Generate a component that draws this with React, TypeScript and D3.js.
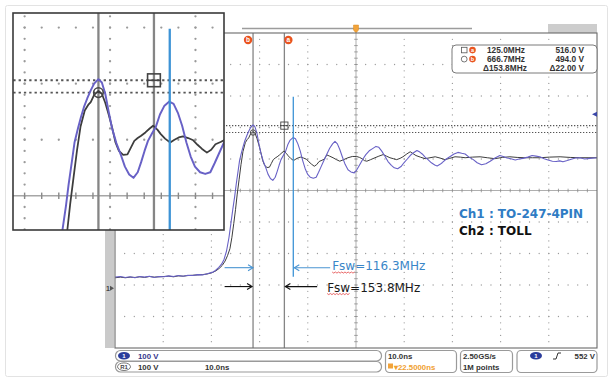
import React from 'react';
import * as d3 from 'd3';

// ---------------- data ----------------
const timeDomain: [number, number] = [-27.14, 72.86]; // ns, 10 ns/div
const voltDomain: [number, number] = [-190, 810]; // V, 100 V/div

// Ch1 : TO-247-4PIN  (t ns, V)
const ch1Points: [number, number][] = [
  [-27.1, 35], [-26.0, 37], [-25.0, 34], [-24.0, 36], [-23.0, 33], [-22.0, 37], [-21.0, 35], [-20.0, 38],
  [-19.0, 34], [-18.0, 37], [-17.0, 36], [-16.0, 39], [-15.0, 37], [-14.0, 40], [-13.0, 38], [-12.0, 41],
  [-11.0, 40], [-10.0, 43], [-9.0, 42], [-8.0, 46], [-7.0, 50], [-6.3, 56], [-5.6, 66], [-5.0, 77],
  [-4.5, 92], [-4.0, 118], [-3.5, 160], [-3.1, 205], [-2.7, 250], [-2.3, 292], [-2.0, 329], [-1.6, 372],
  [-1.3, 405], [-0.9, 430], [-0.55, 450], [-0.2, 468], [0.2, 484], [0.6, 498], [1.0, 510], [1.5, 518],
  [1.9, 512], [2.3, 492], [2.7, 460], [3.1, 430], [3.6, 404], [4.1, 384], [4.6, 362], [5.1, 348],
  [5.6, 342], [6.1, 352], [6.5, 370], [6.9, 390], [7.3, 408], [7.8, 422], [8.2, 432], [8.7, 455],
  [9.2, 470], [9.8, 478], [10.3, 474], [10.8, 458], [11.3, 435], [11.8, 405], [12.3, 380], [12.8, 362],
  [13.4, 352], [14.0, 349], [14.6, 352], [15.1, 368], [15.6, 385], [16.2, 405], [16.8, 425], [17.4, 444],
  [18.0, 458], [18.5, 466], [19.0, 458], [19.5, 440], [20.0, 418], [20.6, 393], [21.2, 376], [21.8, 369],
  [22.5, 366], [23.0, 375], [23.6, 391], [24.3, 410], [24.9, 424], [25.6, 436], [26.3, 443], [27.0, 450],
  [27.6, 447], [28.2, 435], [28.9, 418], [29.5, 402], [30.2, 390], [30.8, 382], [31.5, 379], [32.2, 386],
  [32.8, 398], [33.5, 410], [34.1, 421], [34.8, 430], [35.5, 437], [36.1, 432], [36.6, 426], [37.2, 416],
  [37.8, 408], [38.5, 398], [39.2, 391], [39.7, 388], [40.3, 393], [40.8, 399], [41.6, 410], [42.4, 418],
  [43.2, 426], [44.0, 431], [44.8, 428], [45.5, 426], [46.3, 416], [47.2, 408], [48.0, 398], [48.9, 392],
  [49.8, 395], [50.7, 403], [51.7, 413], [52.7, 421], [53.4, 418], [54.2, 413], [55.0, 411], [55.9, 407],
  [56.7, 410], [57.5, 412], [58.5, 416], [59.4, 421], [60.2, 419], [61.0, 417], [61.9, 411], [62.7, 407],
  [63.6, 403], [64.4, 402], [65.1, 404], [65.8, 401], [66.7, 405], [67.5, 409], [68.4, 413], [69.3, 414],
  [70.3, 410], [71.4, 412], [72.86, 414],
];

// Ch2 : TOLL  (t ns, V)
const ch2Points: [number, number][] = [
  [-27.1, 33], [-26.0, 35], [-25.0, 33], [-24.0, 35], [-23.0, 34], [-22.0, 36], [-21.0, 34], [-20.0, 37],
  [-19.0, 35], [-18.0, 36], [-17.0, 37], [-16.0, 38], [-15.0, 36], [-14.0, 39], [-13.0, 38], [-12.0, 40],
  [-11.0, 41], [-10.0, 42], [-9.0, 43], [-8.0, 45], [-7.0, 49], [-6.2, 55], [-5.5, 63], [-4.9, 72],
  [-4.3, 86], [-3.8, 103], [-3.3, 125], [-2.9, 160], [-2.5, 205], [-2.14, 249], [-1.8, 296], [-1.4, 344],
  [-1.0, 392], [-0.6, 433], [-0.1, 462], [0.3, 472], [0.6, 477], [1.0, 490], [1.5, 497], [1.9, 492],
  [2.3, 476], [2.7, 455], [3.1, 432], [3.5, 405], [3.9, 390], [4.4, 383], [4.9, 384], [5.3, 396],
  [5.7, 408], [6.1, 413], [6.5, 417], [7.0, 423], [7.5, 430], [7.9, 435], [8.4, 428], [8.8, 420],
  [9.3, 412], [9.9, 405], [10.4, 410], [10.9, 414], [11.4, 416], [12.0, 413], [12.6, 409], [13.1, 401],
  [13.6, 394], [14.2, 387], [14.7, 392], [15.2, 402], [15.8, 406], [16.3, 410], [16.8, 423], [17.4, 419],
  [18.1, 414], [18.8, 408], [19.5, 403], [20.3, 408], [21.2, 414], [22.1, 418], [23.0, 418], [23.6, 415],
  [24.1, 411], [24.6, 405], [25.1, 403], [25.9, 408], [26.8, 414], [27.6, 419], [28.5, 424], [29.2, 419],
  [29.9, 414], [30.6, 411], [31.3, 408], [32.0, 412], [32.6, 417], [33.4, 426], [34.1, 433], [34.7, 427],
  [35.3, 421], [36.2, 416], [37.2, 411], [38.2, 414], [39.3, 417], [40.3, 413], [41.3, 408], [42.3, 412],
  [43.4, 417], [44.5, 416], [45.5, 414], [47.0, 416], [48.6, 417], [50.1, 414], [51.7, 411], [53.2, 415],
  [54.8, 417], [56.3, 415], [57.9, 414], [59.5, 414], [61.0, 414], [63.0, 416], [65.2, 417], [67.3, 415],
  [69.3, 414], [71.0, 414], [72.86, 414],
];

// cursors
const cursorTimes = { a: 8.0, b: 1.5 }; // ns
const cursorVolts = { a: 516.0, b: 494.0 }; // V
const ch1SecondPeakT = 9.85; // ns (blue marker)
const ch1MarkerVolts: [number, number] = [36, 608];
const triggerLevel = 552; // V
const arrowVolts = { ch1: 65, ch2: 5 };
const arrowStartT = -4.4;
const ch1LabelT = 17.5;
const ch2LabelT = 14.8;

const readoutRows = [
  { icon: 'square', id: 'a', freq: '125.0MHz', volt: '516.0 V' },
  { icon: 'circle', id: 'b', freq: '666.7MHz', volt: '494.0 V' },
  { icon: '', id: '', freq: 'Δ153.8MHz', volt: 'Δ22.00 V' },
];
const fswLabels = { ch1: 'Fsw=116.3MHz', ch2: 'Fsw=153.8MHz' };
const channelLabels = ['Ch1 : TO-247-4PIN', 'Ch2 : TOLL'];

// zoom window of the inset (t ns, V)
const insetT: [number, number] = [-8.5, 16.2];
const insetV: [number, number] = [249, 636];

// ---------------- layout ----------------
const W = 614, H = 382;
const PL = 115, PR = 597, PT = 33, PB = 348;
const INSET = { x0: 13, y0: 13, x1: 224, y1: 230 };

const C1 = '#6861c6';
const C2 = '#3d3d3d';
const BLUE = '#3d93d6';
const ORANGE = '#e9541f';

type Sc = d3.ScaleLinear<number, number>;

function Scene({ x, y }: { x: Sc; y: Sc }) {
  const majorT = d3.range(11).map((i) => timeDomain[0] + i * 10);
  const majorV = d3.range(11).map((j) => voltDomain[0] + j * 100);
  const minorT = d3.range(1, 50).map((i) => timeDomain[0] + i * 2);
  const minorV = d3.range(1, 50).map((j) => voltDomain[0] + j * 20);
  const dots: JSX.Element[] = [];
  majorV.forEach((v, j) => {
    if (j === 0 || j === 10 || j === 5) return;
    minorT.forEach((t, i) => dots.push(<circle key={`r${j}-${i}`} cx={x(t)} cy={y(v)} r={0.65} fill="#9a9a9a" />));
  });
  majorT.forEach((t, i) => {
    if (i === 0 || i === 10 || i === 5) return;
    minorV.forEach((v, j) => dots.push(<circle key={`c${i}-${j}`} cx={x(t)} cy={y(v)} r={0.65} fill="#9a9a9a" />));
  });
  const cT = majorT[5];
  const cV = majorV[5];
  const line = d3.line<[number, number]>().x((d) => x(d[0])).y((d) => y(d[1]));
  const sq = 3.6;
  return (
    <g>
      {dots}
      {/* center cross with ticks */}
      <line x1={PL} x2={PR} y1={y(cV)} y2={y(cV)} stroke="#a6a6a6" strokeWidth={0.9} />
      <line x1={x(cT)} x2={x(cT)} y1={PT} y2={PB} stroke="#a6a6a6" strokeWidth={0.9} />
      {minorT.map((t, i) => (
        <line key={`th${i}`} x1={x(t)} x2={x(t)} y1={y(cV) - 1.8} y2={y(cV) + 1.8} stroke="#8a8a8a" strokeWidth={0.8} />
      ))}
      {minorV.map((v, i) => (
        <line key={`tv${i}`} x1={x(cT) - 1.8} x2={x(cT) + 1.8} y1={y(v)} y2={y(v)} stroke="#8a8a8a" strokeWidth={0.8} />
      ))}
      {/* cursor lines */}
      {[cursorTimes.a, cursorTimes.b].map((t, i) => (
        <line key={`cv${i}`} x1={x(t)} x2={x(t)} y1={PT} y2={PB} stroke="#858585" strokeWidth={1.3} />
      ))}
      {[cursorVolts.a, cursorVolts.b].map((v, i) => (
        <line key={`ch${i}`} x1={PL} x2={PR} y1={y(v)} y2={y(v)} stroke="#555" strokeWidth={1.1} strokeDasharray="1.3 1.7" />
      ))}
      {/* waveforms */}
      <path d={line(ch2Points) || ''} fill="none" stroke={C2} strokeWidth={1} strokeLinejoin="round" />
      <path d={line(ch1Points) || ''} fill="none" stroke={C1} strokeWidth={1.1} strokeLinejoin="round" />
      {/* blue marker line */}
      <line x1={x(ch1SecondPeakT)} x2={x(ch1SecondPeakT)} y1={y(ch1MarkerVolts[1])} y2={y(ch1MarkerVolts[0])} stroke={BLUE} strokeWidth={1.3} />
      {/* cursor point markers */}
      <g stroke="#444" strokeWidth={0.9} fill="none">
        <rect x={x(cursorTimes.a) - sq} y={y(cursorVolts.a) - sq} width={sq * 2} height={sq * 2} />
        <line x1={x(cursorTimes.a) - sq} x2={x(cursorTimes.a) + sq} y1={y(cursorVolts.a)} y2={y(cursorVolts.a)} />
        <circle cx={x(cursorTimes.b)} cy={y(cursorVolts.b)} r={2.7} />
      </g>
    </g>
  );
}

function Arrow({ x1, x2, y, color }: { x1: number; x2: number; y: number; color: string }) {
  const dir = x2 > x1 ? 1 : -1;
  return (
    <g stroke={color} strokeWidth={1.1} fill="none">
      <line x1={x1} x2={x2} y1={y} y2={y} />
      <path d={`M${x2 - dir * 5},${y - 3} L${x2},${y} L${x2 - dir * 5},${y + 3}`} />
    </g>
  );
}

function Squiggle({ x0, y0, w }: { x0: number; y0: number; w: number }) {
  const pts: string[] = [];
  for (let i = 0; i <= Math.round(w / 1.6); i++) pts.push(`${x0 + i * 1.6},${y0 + (i % 2 ? 1.1 : 0)}`);
  return <polyline points={pts.join(' ')} fill="none" stroke="#e02a2a" strokeWidth={0.7} />;
}

export default function App() {
  const x = d3.scaleLinear().domain(timeDomain).range([PL, PR]);
  const y = d3.scaleLinear().domain(voltDomain).range([PB, PT]);

  // inset transform from zoom window
  const mx0 = x(insetT[0]), mx1 = x(insetT[1]);
  const my0 = y(insetV[1]), my1 = y(insetV[0]);
  const kx = (INSET.x1 - INSET.x0) / (mx1 - mx0);
  const ky = (INSET.y1 - INSET.y0) / (my1 - my0);
  const tx = INSET.x0 - kx * mx0;
  const ty = INSET.y0 - ky * my0;

  const xA = x(cursorTimes.a), xB = x(cursorTimes.b);
  const yTrig = y(triggerLevel);
  const yArrow1 = y(arrowVolts.ch1), yArrow2 = y(arrowVolts.ch2);
  const xc = (PL + PR) / 2;
  const font = 'Liberation Sans, Arial, sans-serif';
  const dv = 'DejaVu Sans, Verdana, sans-serif';

  return (
    <svg width={W} height={H} style={{ position: 'absolute', left: 0, top: 0 }} fontFamily={font}>
      <defs>
        <clipPath id="screenClip"><rect x={PL} y={PT} width={PR - PL} height={PB - PT} /></clipPath>
        <clipPath id="insetClip"><rect x={INSET.x0} y={INSET.y0} width={INSET.x1 - INSET.x0} height={INSET.y1 - INSET.y0} /></clipPath>
      </defs>
      <rect width={W} height={H} fill="#fff" />
      <rect x={5.5} y={5.5} width={602} height={371} rx={2} fill="none" stroke="#e3e3e3" />

      {/* top record bar */}
      <line x1={242} x2={472} y1={28.5} y2={28.5} stroke="#9c9c9c" strokeWidth={1.5} />
      <rect x={548} y={24} width={49} height={9} fill="#cdcdcd" />
      <path d={`M${xc - 2.5},${25} h5 v5 l-2.5,3 l-2.5,-3 Z`} fill="#f2a33a" stroke="#d98a20" strokeWidth={0.5} />

      {/* left gray bar */}
      <rect x={105} y={PT} width={9} height={PB - PT} fill="#cacaca" />
      <text x={106} y={y(0) + 3} fontSize={7} fontWeight="bold" fill="#444">1</text>
      <path d={`M110,${y(0) - 2.5} L114,${y(0)} L110,${y(0) + 2.5} Z`} fill="#555" />

      {/* screen */}
      <g clipPath="url(#screenClip)">
        <Scene x={x} y={y} />
      </g>
      <rect x={PL} y={PT} width={PR - PL} height={PB - PT} fill="none" stroke="#6a6a6a" strokeWidth={1.1} />

      {/* trigger level marker */}
      <path d={`M597,${yTrig - 2.5} L592,${yTrig} L597,${yTrig + 2.5} Z`} fill="#3a46a8" />

      {/* cursor labels */}
      {[{ cx: xB - 5, l: 'b' }, { cx: xA + 4, l: 'a' }].map((c) => (
        <g key={c.l}>
          <circle cx={c.cx} cy={40} r={4.2} fill={ORANGE} />
          <text x={c.cx} y={42.3} fontSize={6.5} fontWeight="bold" fill="#fff" textAnchor="middle">{c.l}</text>
        </g>
      ))}

      {/* readout box */}
      <rect x={452} y={45} width={145} height={28} rx={4} fill="#fff" stroke="#7a7a7a" strokeWidth={1} />
      {readoutRows.map((r, i) => {
        const by = 53.3 + i * 9;
        return (
          <g key={i} fontSize={8.3} fontWeight="bold" fill="#333">
            {r.icon === 'square' && <rect x={461.5} y={by - 6} width={5.5} height={5.5} fill="none" stroke="#555" strokeWidth={0.8} />}
            {r.icon === 'circle' && <circle cx={464.2} cy={by - 3.2} r={2.9} fill="none" stroke="#555" strokeWidth={0.8} />}
            {r.id && (
              <g>
                <circle cx={472.5} cy={by - 3.2} r={3.3} fill={ORANGE} />
                <text x={472.5} y={by - 1.2} fontSize={5.5} fill="#fff" textAnchor="middle">{r.id}</text>
              </g>
            )}
            <text x={r.icon ? 487 : 483} y={by}>{r.freq}</text>
            <text x={584} y={by} textAnchor="end">{r.volt}</text>
          </g>
        );
      })}

      {/* annotations */}
      <Arrow x1={x(arrowStartT)} x2={xB} y={yArrow1} color="#4a95d2" />
      <Arrow x1={x(ch1LabelT)} x2={x(ch1SecondPeakT) + 1} y={yArrow1} color="#4a95d2" />
      <Arrow x1={x(arrowStartT)} x2={xB - 1} y={yArrow2} color="#111" />
      <Arrow x1={x(ch2LabelT)} x2={xA + 1} y={yArrow2} color="#111" />
      <text x={x(ch1LabelT) + 2} y={270} fontFamily={dv} fontSize={12} fill="#3a86c8">{fswLabels.ch1}</text>
      <Squiggle x0={x(ch1LabelT) + 2} y0={272} w={22} />
      <text x={x(ch2LabelT) + 10} y={291.5} fontFamily={dv} fontSize={12} fill="#1a1a1a">{fswLabels.ch2}</text>
      <Squiggle x0={x(ch2LabelT) + 10} y0={293.5} w={22} />

      <text x={459} y={218} fontFamily={dv} fontSize={12} fontWeight="bold" fill="#2f7cc4">{channelLabels[0]}</text>
      <text x={459} y={235} fontFamily={dv} fontSize={12} fontWeight="bold" fill="#111">{channelLabels[1]}</text>

      {/* status bar */}
      <g fontSize={7.8} fontWeight="bold" fill="#333">
        <rect x={115.5} y={350.5} width={266} height={10.5} rx={5} fill="#fff" stroke="#9a9a9a" strokeWidth={1.2} />
        <rect x={115.5} y={361.5} width={266} height={10.5} rx={5} fill="#fff" stroke="#9a9a9a" strokeWidth={1.2} />
        <ellipse cx={124} cy={355.7} rx={6} ry={3.8} fill="#2b3c9c" />
        <text x={124} y={358.3} fontSize={6} fill="#fff" textAnchor="middle">1</text>
        <text x={138} y={358.8} fill="#34348a">100 V</text>
        <ellipse cx={124} cy={366.7} rx={6.5} ry={3.8} fill="#fff" stroke="#555" strokeWidth={0.8} />
        <text x={124} y={369.3} fontSize={6} fill="#444" textAnchor="middle">R1</text>
        <text x={138} y={369.8}>100 V</text>
        <text x={205} y={369.8}>10.0ns</text>

        <rect x={385.5} y={350.5} width={71} height={22} rx={4} fill="#fff" stroke="#9a9a9a" strokeWidth={1.2} />
        <text x={388} y={358.8}>10.0ns</text>
        <rect x={388} y={363.5} width={5} height={5} fill="#f2a33a" />
        <text x={394} y={369.5} fill="#f0a030">▾22.5000ns</text>

        <rect x={460.5} y={350.5} width={52} height={22} rx={4} fill="#fff" stroke="#9a9a9a" strokeWidth={1.2} />
        <text x={463} y={358.8}>2.50GS/s</text>
        <text x={463} y={369.8}>1M points</text>

        <rect x={517} y={350.5} width={80} height={22} rx={4} fill="#fff" stroke="#9a9a9a" strokeWidth={1.2} />
        <ellipse cx={536} cy={355.7} rx={6} ry={3.8} fill="#2b3c9c" />
        <text x={536} y={358.3} fontSize={6} fill="#fff" textAnchor="middle">1</text>
        <path d="M553,359 L556,359 L558,353 L561,353" fill="none" stroke="#333" strokeWidth={1} />
        <text x={595} y={358.8} textAnchor="end">552 V</text>
      </g>

      {/* inset zoom */}
      <rect x={INSET.x0} y={INSET.y0} width={INSET.x1 - INSET.x0} height={INSET.y1 - INSET.y0} fill="#fff" />
      <g clipPath="url(#insetClip)">
        <g transform={`translate(${tx},${ty}) scale(${kx},${ky})`}>
          <Scene x={x} y={y} />
        </g>
      </g>
      <rect x={INSET.x0} y={INSET.y0} width={INSET.x1 - INSET.x0} height={INSET.y1 - INSET.y0} fill="none" stroke="#3a3a3a" strokeWidth={1.6} />
    </svg>
  );
}
